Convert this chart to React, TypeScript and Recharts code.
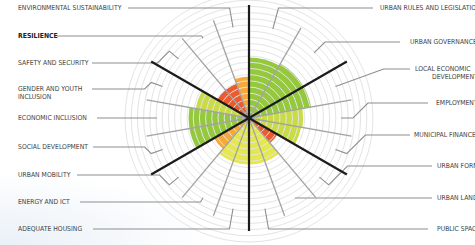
import React from "react";
import {
  RadarChart,
  Radar,
  PolarGrid,
  PolarAngleAxis,
  PolarRadiusAxis,
  Sector,
} from "recharts";

// categories clockwise from 12 o'clock, "\n" marks a label line break
const categories = [
  "URBAN RULES AND LEGISLATION",
  "URBAN GOVERNANCE",
  "LOCAL ECONOMIC\nDEVELOPMENT",
  "EMPLOYMENT",
  "MUNICIPAL FINANCE",
  "URBAN FORM",
  "URBAN LAND",
  "PUBLIC SPACE",
  "ADEQUATE HOUSING",
  "ENERGY AND ICT",
  "URBAN MOBILITY",
  "SOCIAL DEVELOPMENT",
  "ECONOMIC INCLUSION",
  "GENDER AND YOUTH\nINCLUSION",
  "SAFETY AND SECURITY",
  "RESILIENCE",
  "ENVIRONMENTAL SUSTAINABILITY",
];

// six themes of 60 degrees each, number of categories in each
const groupSizes = [2, 3, 3, 3, 3, 3];

const scores = [48, 50, 50, 43, 42, 26, 37, 37, 37, 37, 32, 48, 48, 43, 29, 29, 33];

const grades = [
  "good", "good", "good", "fair", "fair", "poor", "weak", "weak", "weak",
  "weak", "low", "good", "good", "fair", "poor", "poor", "low",
];

const gradeColors: Record<string, string> = {
  good: "#94c83d",
  fair: "#c9dc47",
  weak: "#e4e84e",
  low: "#f6a93a",
  poor: "#ec5a2e",
};

// label placement: text start x, line y, where the leader stops
const labelLayout = [
  { x: 380, y: 8, lineX: 373 },
  { x: 410, y: 42, lineX: 400 },
  { x: 415, y: 69, lineX: 410, x2: 432 },
  { x: 436, y: 103, lineX: 428 },
  { x: 414, y: 135, lineX: 410 },
  { x: 437, y: 166, lineX: 432 },
  { x: 437, y: 198, lineX: 432 },
  { x: 437, y: 229, lineX: 428 },
  { x: 18, y: 229, lineX: 93 },
  { x: 18, y: 202, lineX: 80 },
  { x: 18, y: 175, lineX: 77 },
  { x: 18, y: 147, lineX: 93 },
  { x: 18, y: 118, lineX: 97 },
  { x: 18, y: 89, lineX: 92 },
  { x: 18, y: 63, lineX: 92 },
  { x: 18, y: 36, lineX: 57, bold: true },
  { x: 18, y: 8, lineX: 128 },
];

const rows: any[] = [];
{
  let i = 0;
  groupSizes.forEach((n, g) => {
    const span = 60 / n;
    for (let k = 0; k < n; k++) {
      rows.push({
        name: categories[i],
        score: scores[i],
        grade: grades[i],
        mid: g * 60 + span * (k + 0.5),
        half: span / 2,
        groupStart: k === 0,
        idx: i,
      });
      i++;
    }
  });
}

const rings = Array.from({ length: 20 }, (_, k) => (k + 1) * 6.2);

const RAD = Math.PI / 180;
const toXY = (cx: number, cy: number, r: number, a: number) => ({
  x: cx + r * Math.cos(-a * RAD),
  y: cy + r * Math.sin(-a * RAD),
});

const Wedges = (props: any) => {
  const { points } = props;
  return (
    <g>
      {points.map((p: any, i: number) => (
        <Sector
          key={i}
          cx={p.cx}
          cy={p.cy}
          innerRadius={0}
          outerRadius={p.radius}
          startAngle={p.angle + p.payload.half}
          endAngle={p.angle - p.payload.half}
          fill={gradeColors[p.payload.grade]}
          stroke="none"
        />
      ))}
    </g>
  );
};

const Overlay = (props: any) => {
  const { points } = props;
  const cx = points[0].cx;
  const cy = points[0].cy;

  const grey: any[] = [];
  const black: any[] = [];
  const leaders: any[] = [];
  const labels: any[] = [];

  points.forEach((p: any, i: number) => {
    const a0 = p.angle + p.payload.half;
    const isGroup = p.payload.groupStart;
    const e = toXY(cx, cy, isGroup ? 113 : 104, a0);
    const line = (
      <line
        key={"s" + i}
        x1={cx}
        y1={cy}
        x2={e.x}
        y2={e.y}
        stroke={isGroup ? "#1c1c1c" : "#a3a3a3"}
        strokeWidth={isGroup ? 2.2 : 1.3}
      />
    );
    (isGroup ? black : grey).push(line);

    const lay = labelLayout[p.payload.idx];
    const s = Math.sin(p.angle * RAD);
    const side = Math.cos(p.angle * RAD) > 0 ? 1 : -1;
    const start = toXY(cx, cy, 92, p.angle);
    const pts = [start];
    const rHit = Math.abs(s) > 0.05 ? (cy - lay.y) / s : -1;
    if (rHit >= 92 && rHit <= 150) {
      pts.push(toXY(cx, cy, rHit, p.angle));
    } else {
      const el = toXY(cx, cy, 104, p.angle);
      pts.push(el);
      pts.push({ x: el.x + side * Math.abs(lay.y - el.y), y: lay.y });
    }
    pts.push({ x: lay.lineX, y: lay.y });
    leaders.push(
      <polyline
        key={"l" + i}
        points={pts.map((q) => `${q.x},${q.y}`).join(" ")}
        fill="none"
        stroke="#8e8e8e"
        strokeWidth={1.1}
      />
    );

    const parts = String(p.payload.name).split("\n");
    parts.forEach((t, j) =>
      labels.push(
        <text
          key={"t" + i + "_" + j}
          x={j > 0 && lay.x2 ? lay.x2 : lay.x}
          y={lay.y + j * 8}
          dominantBaseline="central"
          fontSize={6.8}
          fontWeight={lay.bold ? 700 : 400}
          fill={lay.bold ? "#222222" : "#444444"}
          fontFamily="'Liberation Sans Narrow', 'DejaVu Sans Condensed', 'Liberation Sans', sans-serif"
        >
          {t}
        </text>
      )
    );
  });

  return (
    <g>
      {leaders}
      {grey}
      {black}
      {labels}
    </g>
  );
};

export default function App() {
  return (
    <div
      style={{
        position: "absolute",
        left: 0,
        top: 0,
        width: 475,
        height: 245,
        background:
          "radial-gradient(ellipse 45% 30% at 0% 100%, #e9f0f7 0%, #ffffff 100%)",
      }}
    >
      <RadarChart
        width={475}
        height={245}
        cx={249}
        cy={118}
        outerRadius={126}
        margin={{ top: 0, right: 0, bottom: 0, left: 0 }}
        data={rows}
      >
        <PolarAngleAxis
          type="number"
          dataKey="mid"
          domain={[0, 360]}
          tick={false}
          axisLine={false}
          tickLine={false}
        />
        <PolarRadiusAxis
          type="number"
          domain={[0, 100]}
          tick={false}
          axisLine={false}
        />
        <Radar
          dataKey="score"
          isAnimationActive={false}
          shape={(props: any) => <Wedges {...props} />}
        />
        <PolarGrid
          gridType="circle"
          radialLines={false}
          polarRadius={rings}
          stroke="#e4e4e4"
          strokeWidth={1}
          zIndex={150}
        />
        <Radar
          dataKey="score"
          isAnimationActive={false}
          zIndex={200}
          shape={(props: any) => <Overlay {...props} />}
        />
      </RadarChart>
    </div>
  );
}
